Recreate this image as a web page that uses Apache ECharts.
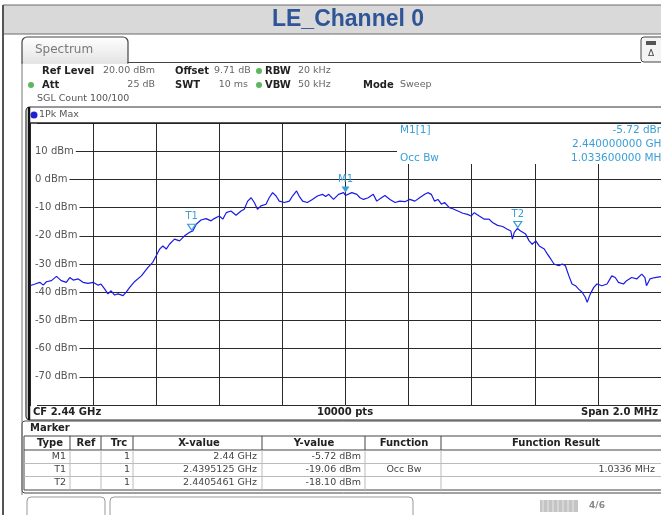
<!DOCTYPE html>
<html>
<head>
<meta charset="utf-8">
<script src="https://cdn.jsdelivr.net/npm/echarts@6/dist/echarts.min.js"></script>
<style>
  html, body { margin: 0; padding: 0; background: #fff; }
  #main { width: 661px; height: 515px; }
</style>
</head>
<body>
<div id="main"></div>
<script>
// trace: offset from CF in kHz, level in dBm
const freqKHz = [-1000,-984,-969,-958,-948,-932,-916,-901,-885,-874,
  -863,-847,-832,-816,-800,-784,-775,-763,-753,-743,
  -732,-721,-705,-695,-684,-668,-647,-626,-611,-600,
  -589,-579,-568,-558,-542,-526,-510,-495,-484,-473,
  -458,-442,-426,-416,-400,-389,-378,-363,-347,-331,
  -321,-310,-299,-289,-279,-268,-252,-242,-231,-220,
  -210,-194,-178,-168,-155,-147,-136,-121,-105,-89,
  -73,-63,-53,-38,-22,-6,0,20,36,46,
  57,72,88,99,114,125,141,157,172,188,
  204,220,235,251,261,272,282,293,304,314,
  329,340,356,372,387,398,408,424,440,455,
  466,482,498,513,524,529,535,545,555,571,
  582,592,603,614,630,640,651,661,676,687,
  697,708,718,729,739,750,760,766,776,787,
  797,813,829,844,855,865,881,891,907,923,
  939,949,954,965,981,1000]
const levelDbm = [-37.7,-37.1,-36.5,-37.5,-36.3,-35.9,-34.4,-35.9,-36.5,-34.8,
  -35.7,-35.3,-36.5,-36.9,-36.5,-37.5,-37.1,-38.9,-40.6,-39.5,
  -41.0,-40.6,-41.2,-40.0,-38.3,-36.2,-34.2,-31.2,-29.4,-27.1,
  -24.7,-23.6,-24.7,-23.0,-21.2,-21.8,-20.0,-18.8,-18.3,-15.9,
  -14.4,-13.9,-14.7,-13.9,-13.0,-14.1,-11.8,-11.2,-12.7,-11.2,
  -10.6,-7.7,-6.5,-8.2,-10.6,-9.4,-8.8,-6.5,-4.7,-5.9,
  -7.7,-8.2,-7.7,-5.9,-4.1,-5.9,-7.7,-8.2,-7.1,-5.9,
  -5.3,-6.1,-5.3,-7.1,-5.3,-4.7,-5.72,-4.7,-5.3,-6.5,
  -7.1,-6.5,-5.3,-7.7,-6.5,-5.7,-7.1,-8.2,-7.7,-7.9,
  -7.1,-7.7,-6.5,-5.3,-4.7,-5.3,-7.7,-7.1,-8.8,-8.2,
  -10.0,-10.4,-11.2,-12.0,-12.4,-13.0,-11.8,-13.0,-14.1,-14.1,
  -15.3,-16.3,-16.7,-17.7,-18.3,-21.2,-18.8,-17.4,-18.3,-19.4,
  -21.8,-23.0,-21.8,-23.6,-24.7,-26.5,-28.3,-30.0,-30.6,-30.0,
  -30.6,-34.2,-37.1,-37.7,-38.9,-40.0,-41.8,-43.6,-40.6,-38.3,
  -37.1,-37.7,-37.1,-34.2,-34.8,-36.5,-37.1,-35.9,-34.8,-35.3,
  -33.6,-34.8,-37.7,-35.3,-34.8,-34.5]

// markers
const markerNames = ['M1', 'T1', 'T2']
const markerKHz = [0, -487.5, 546.1]
const markerDbm = [-5.72, -19.06, -18.10]

// marker table
const tableHeader = ['Type', 'Ref', 'Trc', 'X-value', 'Y-value', 'Function', 'Function Result']
const tableRows = [
  ['M1', '', '1', '2.44 GHz', '-5.72 dBm', '', ''],
  ['T1', '', '1', '2.4395125 GHz', '-19.06 dBm', 'Occ Bw', '1.0336 MHz'],
  ['T2', '', '1', '2.4405461 GHz', '-18.10 dBm', '', '']
]

const FONT = 'DejaVu Sans'
const MB = '#3a9fd6'   // marker blue

function txt(x, y, s, opt) {
  opt = opt || {}
  return {
    type: 'text', x: x, y: y, z: opt.z || 20,
    style: {
      text: s,
      fill: opt.color || '#444',
      font: (opt.bold ? 'bold ' : '') + (opt.size || 10) + 'px ' + (opt.family || FONT),
      textAlign: opt.align || 'left',
      textVerticalAlign: 'middle'
    }
  }
}
function line(x1, y1, x2, y2, color, w, z) {
  return { type: 'line', z: z || 15, shape: { x1: x1, y1: y1, x2: x2, y2: y2 },
    style: { stroke: color, lineWidth: w || 1 } }
}

let g = []
// title band
g.push({ type: 'rect', z: 5, shape: { x: 3, y: 5, width: 662, height: 29 },
  style: { fill: '#d9d9d9', stroke: '#6a6a6a', lineWidth: 1 } })
g.push(txt(348, 20, 'LE_Channel 0', { bold: true, size: 23, color: '#2f5597', align: 'center', family: 'Liberation Sans' }))
g.push(line(3, 5, 3, 515, '#555', 2))

// Spectrum tab
g.push({ type: 'rect', z: 5, shape: { x: 22, y: 37, width: 106, height: 26, r: [5, 5, 0, 0] },
  style: { fill: { type: 'linear', x: 0, y: 0, x2: 0, y2: 1, colorStops: [{ offset: 0, color: '#ffffff' }, { offset: 1, color: '#e4e4e4' }] },
    stroke: '#444', lineWidth: 1.2 } })
g.push(line(23, 63, 127, 63, '#fff', 1.5, 6))
g.push(txt(35, 50, 'Spectrum', { size: 12, color: '#7a7a7a' }))
g.push(line(128, 62.5, 641, 62.5, '#444', 1.2))
g.push(line(22, 62, 22, 495, '#777', 1))
g.push({ type: 'rect', z: 5, shape: { x: 641, y: 37, width: 26, height: 25, r: 3 },
  style: { fill: '#f4f4f4', stroke: '#444', lineWidth: 1 } })
g.push({ type: 'rect', z: 6, shape: { x: 646, y: 41, width: 10, height: 4 }, style: { fill: '#555' } })
g.push(txt(651, 54, 'Δ', { size: 9, color: '#444', align: 'center' }))

// setting lines
const dot = (x, y) => ({ type: 'circle', z: 20, shape: { cx: x, cy: y, r: 3 }, style: { fill: '#5cb85c' } })
const lbl = (x, y, s) => txt(x, y, s, { bold: true, color: '#222' })
const val = (x, y, s, a) => txt(x, y, s, { color: '#666', size: 9.5, align: a })
g.push(lbl(42, 71, 'Ref Level'))
g.push(val(103, 71, '20.00 dBm'))
g.push(lbl(175, 71, 'Offset'))
g.push(val(214, 71, '9.71 dB'))
g.push(dot(259, 71))
g.push(lbl(265, 71, 'RBW'))
g.push(val(298, 71, '20 kHz'))
g.push(dot(31, 85))
g.push(lbl(42, 85, 'Att'))
g.push(val(155, 85, '25 dB', 'right'))
g.push(lbl(175, 85, 'SWT'))
g.push(val(248, 85, '10 ms', 'right'))
g.push(dot(259, 85))
g.push(lbl(265, 85, 'VBW'))
g.push(val(298, 85, '50 kHz'))
g.push(lbl(363, 85, 'Mode'))
g.push(val(400, 85, 'Sweep'))
g.push(txt(37, 99, 'SGL Count 100/100', { color: '#555', size: 9.5 }))

// plot frame
g.push({ type: 'rect', z: 4, shape: { x: 26, y: 107, width: 650, height: 313, r: 4 },
  style: { fill: 'none', stroke: '#333', lineWidth: 1.2 } })
g.push(line(29, 107, 29, 420, '#111', 2.5))
g.push({ type: 'circle', z: 20, shape: { cx: 34, cy: 115, r: 3.5 }, style: { fill: '#2020d0' } })
g.push(txt(39, 115, '1Pk Max', { color: '#555', size: 9.5 }))
g.push(line(29, 123, 665, 123, '#222', 1.5))
// marker readout box
g.push({ type: 'rect', z: 10, shape: { x: 397, y: 124, width: 270, height: 40 }, style: { fill: '#fff' } })
g.push(txt(400, 130, 'M1[1]', { color: MB, size: 10.5 }))
g.push(txt(400, 158, 'Occ Bw', { color: MB, size: 10.5 }))
g.push(txt(667, 130, '-5.72 dBm', { color: MB, size: 10.5, align: 'right' }))
g.push(txt(667, 144, '2.440000000 GHz', { color: MB, size: 10.5, align: 'right' }))
g.push(txt(667, 158, '1.033600000 MHz', { color: MB, size: 10.5, align: 'right' }))
// footer
g.push(txt(33, 412, 'CF 2.44 GHz', { bold: true, color: '#222' }))
g.push(txt(345, 412, '10000 pts', { bold: true, color: '#222', align: 'center' }))
g.push(txt(658, 412, 'Span 2.0 MHz', { bold: true, color: '#222', align: 'right' }))

// marker table
g.push({ type: 'rect', z: 4, shape: { x: 22, y: 421, width: 650, height: 72, r: 3 },
  style: { fill: 'none', stroke: '#444', lineWidth: 1 } })
g.push(txt(30, 428, 'Marker', { bold: true, color: '#222' }))
g.push({ type: 'rect', z: 5, shape: { x: 24, y: 436, width: 650, height: 54 },
  style: { fill: '#fff', stroke: '#444', lineWidth: 1 } })
const colSep = [70, 101, 133, 262, 365, 441]
const rowY = [443.5, 457, 470, 483]
g.push(line(24, 450, 665, 450, '#444', 1))
g.push(line(24, 463.5, 665, 463.5, '#bbb', 1))
g.push(line(24, 476.5, 665, 476.5, '#bbb', 1))
colSep.forEach(x => {
  g.push(line(x, 436, x, 450, '#444', 1))
  g.push(line(x, 450, x, 490, '#bbb', 1))
})
const headX = [50, 86, 119, 199, 314, 404, 556]
tableHeader.forEach((h, i) => g.push(txt(headX[i], rowY[0], h, { bold: true, color: '#222', align: 'center' })))
const cellX = [66, 0, 130, 257, 361, 404, 655]
const cellAlign = ['right', 'right', 'right', 'right', 'right', 'center', 'right']
tableRows.forEach((r, ri) => r.forEach((c, ci) => {
  if (c) g.push(txt(cellX[ci], rowY[ri + 1], c, { color: '#444', size: 9.5, align: cellAlign[ci] }))
}))

// status bar
g.push({ type: 'rect', z: 5, shape: { x: 27, y: 497, width: 78, height: 22, r: 4 },
  style: { fill: '#fff', stroke: '#999', lineWidth: 1 } })
g.push({ type: 'rect', z: 5, shape: { x: 110, y: 497, width: 303, height: 22, r: 4 },
  style: { fill: '#fff', stroke: '#999', lineWidth: 1 } })
g.push({ type: 'rect', z: 5, shape: { x: 540, y: 500, width: 38, height: 12 }, style: { fill: '#c4c4c4' } })
for (let i = 0; i < 7; i++) g.push(line(543 + i * 5, 500, 543 + i * 5, 512, '#e8e8e8', 1, 6))
g.push(txt(597, 506, '4/6', { bold: true, size: 9, color: '#888', align: 'center' }))

const traceData = freqKHz.map((f, i) => [f, levelDbm[i]])
const markData = markerNames.map((n, i) => ({
  name: n,
  coord: [markerKHz[i], markerDbm[i]],
  symbol: 'triangle',
  symbolRotate: 180,
  symbolSize: [8, 6],
  symbolOffset: [0, -6],
  itemStyle: i === 0 ? { color: MB } : { color: 'rgba(255,255,255,0)', borderColor: MB, borderWidth: 1.2 },
  label: { show: true, formatter: n, position: 'top', distance: 2, color: MB, fontSize: 10, fontFamily: FONT }
}))

const chart = echarts.init(document.getElementById('main'))
chart.setOption({
  backgroundColor: '#fff',
  animation: false,
  grid: { left: 30, top: 123, width: 635, height: 282 },
  xAxis: {
    type: 'value', min: -1000, max: 1000, interval: 200,
    axisLine: { show: false }, axisTick: { show: false }, axisLabel: { show: false },
    splitLine: { lineStyle: { color: '#2a2a2a', width: 1 } }
  },
  yAxis: {
    type: 'value', min: -80, max: 20, interval: 10,
    axisLine: { show: false }, axisTick: { show: false },
    axisLabel: {
      inside: true, margin: 1, color: '#555', fontSize: 10, fontFamily: FONT,
      backgroundColor: '#fff', padding: [1, 2, 1, 4],
      formatter: v => (v === 20 || v === -80) ? '' : v + ' dBm'
    },
    splitLine: { lineStyle: { color: '#2a2a2a', width: 1 } }
  },
  series: [{
    type: 'line',
    data: traceData,
    showSymbol: false,
    lineStyle: { color: '#1a1ae6', width: 1.2 },
    markPoint: { data: markData }
  }],
  graphic: { elements: g }
})
</script>
</body>
</html>
